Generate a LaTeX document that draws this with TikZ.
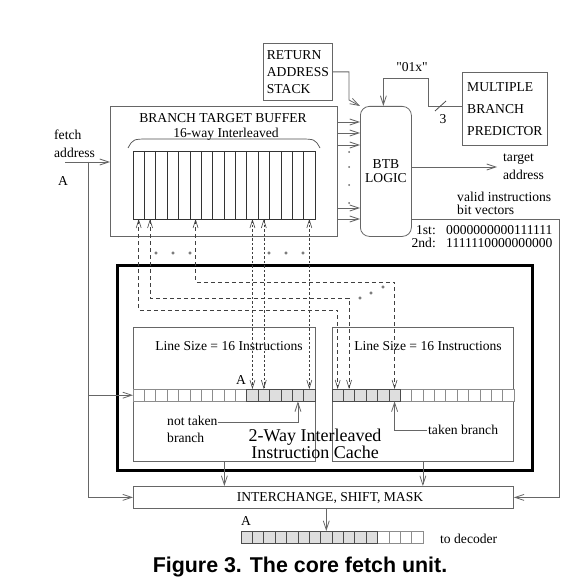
\documentclass[tikz,border=0pt]{standalone}
\usepackage{fontspec}
\setmainfont{Liberation Serif}
\newfontfamily\rawserif{Liberation Serif}[Ligatures=TeXOff]
\newfontfamily\figcapfont{Liberation Sans}
\usetikzlibrary{arrows.meta, positioning}

\newcommand{\dgbody}{\fontsize{13.6}{16}\selectfont}

\begin{document}
\begin{tikzpicture}[
  x=1pt, y=-1pt,
  every node/.style={font=\dgbody, inner sep=0pt},
  box/.style={draw=black!60, line width=0.8pt, rectangle, anchor=north west},
  cellrow/.style={anchor=north west, minimum width=182pt, minimum height=12pt},
  arrow/.style={-{Straight Barb[length=9pt,width=6pt]}, draw=black!60, line width=0.8pt},
  link/.style={{Straight Barb[length=8pt,width=5pt]}-{Straight Barb[length=8pt,width=5pt]}, draw=black!75, line width=0.6pt, dash pattern=on 4pt off 3pt},
  shortlink/.style={link, dash pattern=on 2.5pt off 2pt},
  cell/.style={draw=black!45, line width=0.6pt, fill=white},
  hitcell/.style={draw=black!70, line width=0.6pt, fill=black!13},
  dot/.style={draw=black!70, line width=0.5pt}
]
\useasboundingbox (0,0) rectangle (586,588);

% Boxes
\node[box, minimum width=69pt, minimum height=57pt, align=left, font={\fontsize{13.6}{17}\selectfont}] (ras) at (263,43) {RETURN\\ADDRESS\\STACK};
\node[box, minimum width=85pt, minimum height=73pt, align=left, font={\fontsize{13.6}{22}\selectfont}] (mbp) at (462,72) {MULTIPLE\\BRANCH\\PREDICTOR};
\node[box, minimum width=227pt, minimum height=130pt] (btb) at (110,106) {};
\node[box, rounded corners=9pt, minimum width=51pt, minimum height=130pt, align=center, font={\fontsize{13.6}{14}\selectfont}] (logic) at (360,106) {BTB\\LOGIC};
\node[box, draw=black, line width=2.6pt, minimum width=415pt, minimum height=205pt] (icache) at (116,264) {};
\node[box, minimum width=182pt, minimum height=134pt] (iclL) at (133,327) {};
\node[box, minimum width=181pt, minimum height=134pt] (iclR) at (332,327) {};
\node[box, minimum width=380pt, minimum height=22pt] (ish) at (133,486) {};

% BTB banks
\node[box, draw=black!80, minimum width=182pt, minimum height=68pt] (banks) at (133,151) {};
\foreach \i in {1,...,15}
  \draw[black!80, line width=0.7pt] (133+\i*11.375,151) -- ++(0,68);
\foreach \i in {0,...,15}
  \coordinate (c\i) at (138.69+\i*11.375,219);
\draw[black!70, line width=0.7pt] (128,148) .. controls (133,139) .. (150,139) -- (298,139) .. controls (315,139) .. (320,148);

% Cache lines and fetch block
\node[cellrow] (rowL) at (133,389) {};
\node[cellrow] (rowR) at (332,389) {};
\node[cellrow] (rowO) at (241,531) {};
\foreach \i in {0,...,15} {
  \coordinate (l\i) at (138.69+\i*11.375,389);
  \coordinate (r\i) at (337.69+\i*11.375,389);
  \coordinate (o\i) at (246.69+\i*11.375,531);
}
\foreach \i in {0,...,9}   \draw[cell]    (133+\i*11.375,389) rectangle ++(11.375,12);
\foreach \i in {10,...,15} \draw[hitcell] (133+\i*11.375,389) rectangle ++(11.375,12);
\foreach \i in {6,...,15}  \draw[cell]    (332+\i*11.375,389) rectangle ++(11.375,12);
\foreach \i in {0,...,5}   \draw[hitcell] (332+\i*11.375,389) rectangle ++(11.375,12);
\foreach \i in {12,...,15} \draw[cell]    (241+\i*11.375,531) rectangle ++(11.375,12);
\foreach \i in {0,...,11}  \draw[hitcell] (241+\i*11.375,531) rectangle ++(11.375,12);

% Labels
\node (btbtitle) at (223,118) {BRANCH TARGET BUFFER};
\node (ways) at (226,134) {16-way Interleaved};
\node[anchor=west, align=left, font={\fontsize{13.6}{18}\selectfont}] (fetchtxt) at (54,144) {fetch\\address};
\node (fa) at (63,181) {A};
\node[font={\rawserif\fontsize{13.6}{16}\selectfont}] (code) at (412,67) {"01x"};
\node (width) at (443,119) {3};
\node[anchor=west, align=left, font={\fontsize{13.6}{18}\selectfont}] (target) at (503,167) {target\\address};
\node[anchor=west, align=left, font={\fontsize{13.6}{13}\selectfont}] (valid) at (457,203) {valid instructions\\bit vectors};
\node[anchor=east] (first) at (436,230) {1st:};
\node[anchor=east] (second) at (436,243) {2nd:};
\node[anchor=west] (firstbits) at (446,230) {0000000000111111};
\node[anchor=west] (secondbits) at (446,243) {1111110000000000};
\node (sizeL) at (229,346) {Line Size = 16 Instructions};
\node (sizeR) at (428,346) {Line Size = 16 Instructions};
\node (ca) at (241,380) {A};
\node[anchor=west, align=left, font={\fontsize{13.6}{17}\selectfont}] (nottaken) at (167,429) {not taken\\branch};
\node[anchor=west] (taken) at (428,430) {taken branch};
\node[align=center, font={\fontsize{18}{16.5}\selectfont}] (ictxt) at (315,444) {2-Way Interleaved\\Instruction Cache};
\node (ishtxt) at (330,498) {INTERCHANGE, SHIFT, MASK};
\node (oa) at (246,521) {A};
\node[anchor=west] (decoder) at (440,539) {to decoder};
\node[font={\figcapfont\bfseries\fontsize{21.4}{24}\selectfont}] (caption) at (300,567) {Figure 3. The core fetch unit.};

% Arrows
\coordinate (fetch) at (65,162);
\coordinate (bus) at (88,162);
\draw[arrow] (fetch) -- (fetch -| btb.west);
\draw[arrow] (bus) |- (rowL.west);
\draw[arrow] (bus) |- (ish.west);
\draw[arrow] (ras.east) -| ([xshift=-11pt,yshift=6pt]logic.north west) -- (logic.north west);
\coordinate (loop) at (428,78);
\draw[arrow] (mbp.west |- logic.north) -| (loop) -| ([xshift=-2.5pt]logic.north);
\draw[black!70, line width=0.8pt] (435,111) -- (446,101);
\foreach \y in {122,133,145,208,219}
  \draw[arrow] (btb.east |- 0,\y) -- (logic.west |- 0,\y);
\foreach \y in {152,167,185,203}
  \fill[black!60] (349,\y) circle (1pt);
\draw[arrow] (logic.east |- target) -- ([xshift=-6pt]target.west);
\coordinate (vec) at (559,219);
\draw[arrow] (logic.east |- vec) -- (vec) |- (ish.east);
\draw[arrow] ([yshift=7pt]nottaken.east) -| (rowL.south -| c14);
\draw[arrow] ([xshift=-1pt]taken.west) -| (rowR.south -| r5);
\draw[arrow] (iclL.south) -- (iclL.south |- ish.north);
\draw[arrow] (iclR.south) -- (iclR.south |- ish.north);
\draw[arrow] (ish.south -| o7) -- (o7);

% Bank links
\foreach \i in {10,11,15}
  \draw[shortlink] (c\i) -- (l\i);
\foreach \i/\y in {0/310,1/298,5/282}
  \draw[link] (c\i) |- (r\i |- 0,\y) -- (r\i);
\foreach \x in {156,173,190,269,286,303}
  \draw[dot] (\x,253) circle (1.3pt);
\foreach \x/\y in {360/298,371/293,383/287}
  \draw[dot] (\x,\y) circle (1.3pt);

\end{tikzpicture}
\end{document}
